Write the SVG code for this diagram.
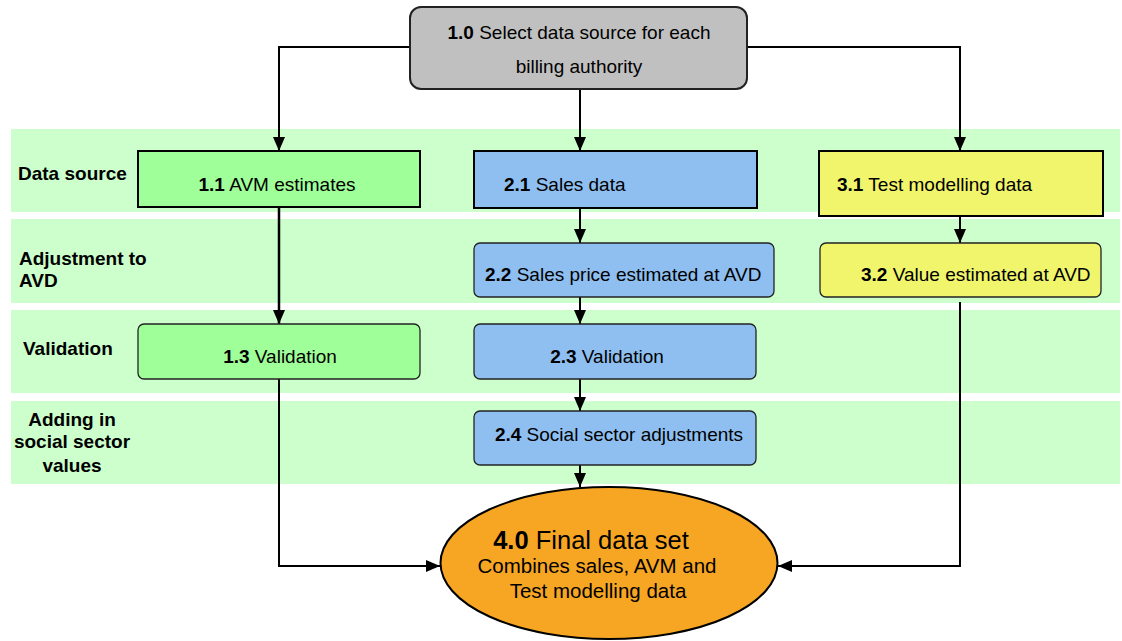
<svg xmlns="http://www.w3.org/2000/svg" width="1122" height="641" viewBox="0 0 1122 641">
<defs>
<style>
.band{fill:#CCFFCC;}
.lbl{font-family:"Liberation Sans",Arial,sans-serif;font-weight:bold;font-size:19px;fill:#000;}
.t{font-family:"Liberation Sans",Arial,sans-serif;font-size:19px;fill:#000;}
.b{font-weight:bold;}
.sq{stroke:#000;stroke-width:2;}
.rd{stroke:#222;stroke-width:1.3;}
.green{fill:#9FFF99;}
.blue{fill:#8EBFF0;}
.yellow{fill:#F0F56C;}
.con{fill:none;stroke:#000;stroke-width:2;}
</style>
<marker id="arr" viewBox="0 0 14 12" refX="14" refY="6" markerWidth="14" markerHeight="12" markerUnits="userSpaceOnUse" orient="auto">
<path d="M0,0 L14,6 L0,12 Z" fill="#000"/>
</marker>
</defs>
<rect width="1122" height="641" fill="#fff"/>
<g id="bands">
<rect class="band" x="11" y="129" width="1109" height="83"/>
<rect class="band" x="11" y="219" width="1109" height="84"/>
<rect class="band" x="11" y="310" width="1109" height="83"/>
<rect class="band" x="11" y="401" width="1109" height="83"/>
<text class="lbl" x="18" y="180">Data source</text>
<text class="lbl" x="19" y="265">Adjustment to</text>
<text class="lbl" x="19" y="287">AVD</text>
<text class="lbl" x="23" y="355">Validation</text>
<text class="lbl" x="72" y="426" text-anchor="middle">Adding in</text>
<text class="lbl" x="72" y="448" text-anchor="middle">social sector</text>
<text class="lbl" x="72" y="472" text-anchor="middle">values</text>
</g>
<g id="connectors">
<path class="con" d="M410,47 H279 V151" marker-end="url(#arr)"/>
<path class="con" d="M580,89 V151" marker-end="url(#arr)"/>
<path class="con" d="M747,47 H960 V151" marker-end="url(#arr)"/>
<path class="con" d="M279,207 V324" marker-end="url(#arr)" style="stroke-width:2.5"/>
<path class="con" d="M279,379 V566 H440" marker-end="url(#arr)"/>
<path class="con" d="M580,207 V243" marker-end="url(#arr)"/>
<path class="con" d="M580,297 V324" marker-end="url(#arr)"/>
<path class="con" d="M580,379 V411" marker-end="url(#arr)"/>
<path class="con" d="M580,465 V487" marker-end="url(#arr)"/>
<path class="con" d="M960,216 V243" marker-end="url(#arr)"/>
<path class="con" d="M960,302 V566 H778" marker-end="url(#arr)"/>
</g>
<g id="n10">
<rect x="410" y="7" width="337" height="82" rx="11" fill="#C0C0C0" stroke="#222" stroke-width="2"/>
<text class="t" x="579" y="39" text-anchor="middle"><tspan class="b">1.0</tspan> Select data source for each</text>
<text class="t" x="579" y="73" text-anchor="middle">billing authority</text>
</g>
<g id="n11">
<rect class="sq green" x="138" y="151" width="282" height="56"/>
<text class="t" x="277" y="191" text-anchor="middle"><tspan class="b">1.1</tspan> AVM estimates</text>
</g>
<g id="n21">
<rect class="sq blue" x="474" y="151" width="283" height="57"/>
<text class="t" x="504" y="191"><tspan class="b">2.1</tspan> Sales data</text>
</g>
<g id="n31">
<rect class="sq yellow" x="819" y="151" width="284" height="65"/>
<text class="t" x="837" y="191"><tspan class="b">3.1</tspan> Test modelling data</text>
</g>
<g id="n22">
<rect class="rd blue" x="474" y="243" width="300" height="54" rx="6"/>
<text class="t" x="485" y="281"><tspan class="b">2.2</tspan> Sales price estimated at AVD</text>
</g>
<g id="n32">
<rect class="rd yellow" x="820" y="243" width="281" height="54" rx="6"/>
<text class="t" x="861" y="281"><tspan class="b">3.2</tspan> Value estimated at AVD</text>
</g>
<g id="n13">
<rect class="rd green" x="138" y="324" width="282" height="55" rx="6"/>
<text class="t" x="280" y="363" text-anchor="middle"><tspan class="b">1.3</tspan> Validation</text>
</g>
<g id="n23">
<rect class="rd blue" x="474" y="324" width="282" height="55" rx="6"/>
<text class="t" x="607" y="363" text-anchor="middle"><tspan class="b">2.3</tspan> Validation</text>
</g>
<g id="n24">
<rect class="rd blue" x="474" y="411" width="282" height="54" rx="6"/>
<text class="t" x="619" y="441" text-anchor="middle"><tspan class="b">2.4</tspan> Social sector adjustments</text>
</g>
<g id="n40">
<ellipse cx="609" cy="563" rx="168.5" ry="76" fill="#F6A623" stroke="#000" stroke-width="2"/>
<text class="t" x="591" y="549" text-anchor="middle" style="font-size:25.5px"><tspan class="b">4.0</tspan> Final data set</text>
<text class="t" x="597" y="573" text-anchor="middle" style="font-size:20.5px">Combines sales, AVM and</text>
<text class="t" x="598" y="598" text-anchor="middle" style="font-size:20.5px">Test modelling data</text>
</g>
</svg>
